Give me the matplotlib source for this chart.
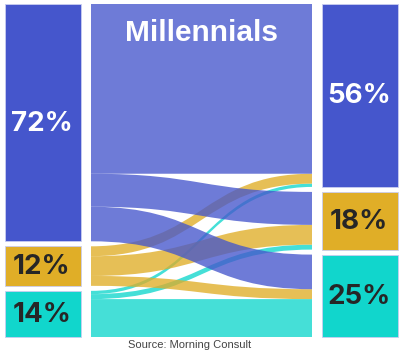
import numpy as np
import matplotlib.pyplot as plt
import matplotlib.path as mpath
import matplotlib.patches as mpatches

# данные: доли перетока между категориями (строки - слева, столбцы - справа)
categories = ['blue', 'yellow', 'teal']
flows = np.array([
    [51.5, 10.0, 10.5],
    [3.0, 6.0, 3.0],
    [1.0, 1.5, 11.5],
])
left_labels = ['72%', '12%', '14%']
right_labels = ['56%', '18%', '25%']
title = 'Millennials'
source = 'Source: Morning Consult'

node_colors = ['#4556cc', '#e0ae27', '#11d6cc']
label_colors = ['white', '#262626', '#262626']

# раскладка в пикселях
W, H = 410, 355
top, bottom, gap = 4, 337, 5
left_x = (5, 81)
mid_x = (91, 312)
right_x = (322, 398)

fig = plt.figure(figsize=(W / 100, H / 100), dpi=100)
ax = fig.add_axes([0, 0, 1, 1])
ax.set_xlim(0, W)
ax.set_ylim(H, 0)
ax.axis('off')

total = flows.sum()
scale = (bottom - top - gap * (len(categories) - 1)) / total
left_vals = flows.sum(axis=1)
right_vals = flows.sum(axis=0)


def node_positions(vals):
    ys = []
    y = top
    for v in vals:
        ys.append(y)
        y += v * scale + gap
    return ys


left_y = node_positions(left_vals)
right_y = node_positions(right_vals)

# узлы (столбики по краям)
for i in range(len(categories)):
    for (x0, x1), ys, vals, labels in [(left_x, left_y, left_vals, left_labels),
                                        (right_x, right_y, right_vals, right_labels)]:
        h = vals[i] * scale
        ax.add_patch(mpatches.Rectangle((x0, ys[i]), x1 - x0, h,
                                        facecolor=node_colors[i],
                                        edgecolor='#c9cdf0', lw=0.6))
        ax.text((x0 + x1) / 2 - 1, ys[i] + h / 2 + 1, labels[i], ha='center', va='center',
                fontsize=20, fontweight='bold', family='Inter', color=label_colors[i])

# потоки
out_off = list(left_y)
in_off = list(right_y)
links = []
for i in range(len(categories)):
    for j in range(len(categories)):
        t = flows[i, j] * scale
        links.append((i, out_off[i], in_off[j], t))
        out_off[i] += t
        in_off[j] += t

xa, xb = mid_x
xm = (xa + xb) / 2
order = [2, 1, 0]  # синие потоки рисуем поверх
for src in order:
    for i, y0, y1, t in links:
        if i != src:
            continue
        verts = [(xa, y0), (xm, y0), (xm, y1), (xb, y1),
                 (xb, y1 + t), (xm, y1 + t), (xm, y0 + t), (xa, y0 + t), (xa, y0)]
        codes = [mpath.Path.MOVETO, mpath.Path.CURVE4, mpath.Path.CURVE4, mpath.Path.CURVE4,
                 mpath.Path.LINETO, mpath.Path.CURVE4, mpath.Path.CURVE4, mpath.Path.CURVE4,
                 mpath.Path.CLOSEPOLY]
        ax.add_patch(mpatches.PathPatch(mpath.Path(verts, codes), facecolor=node_colors[i],
                                        edgecolor='none', alpha=0.78))

ax.text(xm, 33, title, ha='center', va='center', fontsize=21.5, fontweight='bold',
        family='Liberation Sans', color='white')
ax.text(190, 345.5, source, ha='center', va='center', fontsize=8,
        family='Liberation Sans', color='#444444')

plt.savefig('out.png', dpi=100)
